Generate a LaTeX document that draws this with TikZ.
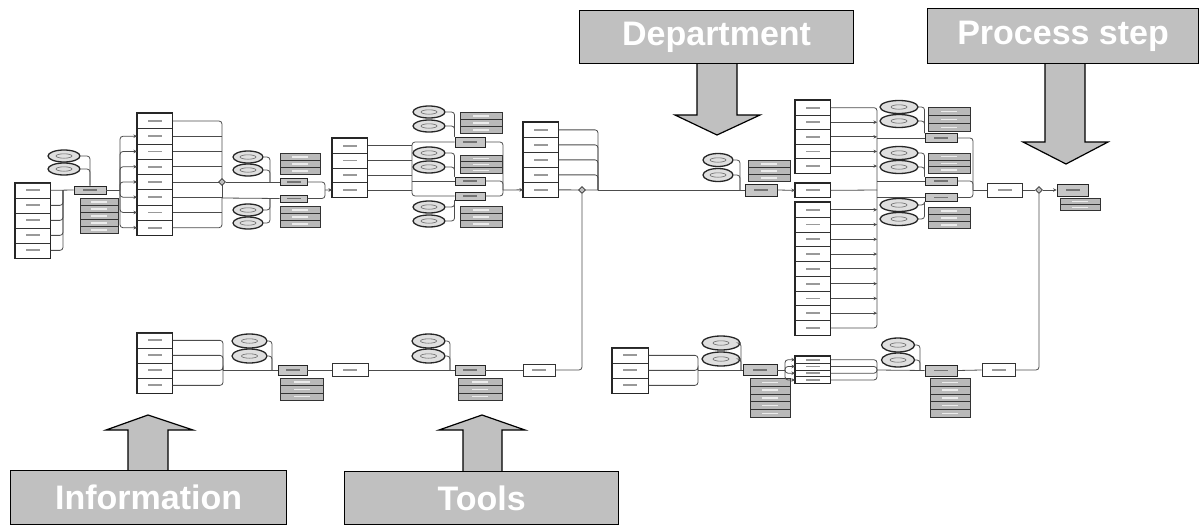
\documentclass[tikz,border=0pt]{standalone}
\usepackage{fontspec}
\setmainfont{Liberation Sans}
\usetikzlibrary{shapes.geometric,arrows.meta}
\definecolor{lblgray}{RGB}{192,192,192}
\tikzset{
 ln/.style={draw=black!70, line width=0.8pt, rounded corners=3pt},
 arr/.style={-{Stealth[length=3.5pt,width=3.5pt]}},
 cell/.style={draw=black!80, line width=0.7pt, fill=white, inner sep=0pt, rectangle,
   path picture={\fill[black!40] ([xshift=-7pt,yshift=-0.9pt]path picture bounding box.center) rectangle ([xshift=7pt,yshift=0.9pt]path picture bounding box.center);}},
 pbox/.style={draw=black!85, line width=0.9pt, fill=gray!45, inner sep=0pt, rectangle,
   path picture={\fill[black!55] ([xshift=-7pt,yshift=-0.9pt]path picture bounding box.center) rectangle ([xshift=7pt,yshift=0.9pt]path picture bounding box.center);}},
 wbox/.style={cell, line width=1pt},
 ell/.style={ellipse, draw=black!85, line width=1.3pt, fill=gray!25, inner sep=0pt,
   path picture={\draw[black!60, line width=0.6pt] (path picture bounding box.center) ellipse (8pt and 2.2pt);}},
 docrow/.style={draw=black!80, line width=0.6pt, fill=gray!55, inner sep=0pt, rectangle,
   path picture={\fill[white!85!gray] ([xshift=-8pt,yshift=-0.7pt]path picture bounding box.center) rectangle ([xshift=8pt,yshift=0.7pt]path picture bounding box.center);}},
 junc/.style={diamond, draw=black!80, fill=gray!50, inner sep=0pt, minimum size=7pt, line width=0.6pt},
 lbl/.style={draw=black, line width=1.2pt, fill=lblgray, text=white, font=\fontsize{34}{34}\selectfont\bfseries, inner sep=0pt},
 blk/.style={draw=black, line width=1.2pt, fill=lblgray, line join=miter},
}
% name, xleft, ytop, n, cell height, width
\newcommand{\mkstack}[6]{%
  \foreach \i in {1,...,#4}{%
    \node[cell, minimum width=#6pt, minimum height=#5pt, anchor=north west] (#1-\i) at (#2,{#3+(\i-1)*#5}) {};
  }
  \draw[black!85, line width=1.1pt] (#1-1.north west) rectangle (#1-#4.south east);
}
% name, xleft, ytop, n, row height, width
\newcommand{\mkdocs}[6]{%
  \foreach \i in {1,...,#4}{%
    \node[docrow, minimum width=#6pt, minimum height=#5pt, anchor=north west] (#1-\i) at (#2,{#3+(\i-1)*#5}) {};
  }
}
% name, cx, cy, w, h
\newcommand{\mkell}[5]{\node[ell, minimum width=#4pt, minimum height=#5pt] (#1) at (#2,#3) {};}

\begin{document}
\begin{tikzpicture}[x=1pt,y=-1pt]
\useasboundingbox (0,0) rectangle (1200,525);

%% ---------------- labels and block arrows
\draw[blk] (697,62) -- (697,115) -- (675,115) -- (717,135) -- (760,115) -- (737,115) -- (737,62);
\draw[blk] (1045,62) -- (1045,142) -- (1023,142) -- (1066,164) -- (1108,142) -- (1085,142) -- (1085,62);
\draw[blk] (128,471) -- (128,430) -- (106,430) -- (148,415) -- (193,430) -- (168,430) -- (168,471);
\draw[blk] (463,472) -- (463,430) -- (439,430) -- (482,415) -- (525,430) -- (502,430) -- (502,472);
\node[lbl, minimum width=274pt, minimum height=53pt, anchor=north west] (dept) at (579,10) {Department};
\node[lbl, minimum width=271pt, minimum height=55pt, anchor=north west] (pstep) at (927,8) {Process step};
\node[lbl, minimum width=276pt, minimum height=54pt, anchor=north west] (info) at (10,470) {Information};
\node[lbl, minimum width=274pt, minimum height=53pt, anchor=north west] (tools) at (344,471) {Tools};

%% ---------------- group A
\mkstack{sa}{15}{182.5}{5}{15}{35}
\mkell{ea1}{64}{156}{32}{12}
\mkell{ea2}{64}{169}{32}{12}
\node[pbox, minimum width=32pt, minimum height=8pt] (pa) at (90,190) {};
\mkdocs{da}{80}{198}{5}{7}{38}
\coordinate (ka) at (63,190);
\draw[ln] (sa-1.east) -- (pa.west);
\foreach \i in {2,...,5} \draw[ln] (sa-\i.east) -| (ka);
\draw[ln] (ea1.east) -| (pa.north);
\draw[ln] (ea2.east) -| (pa.north);

%% ---------------- group B
\mkstack{sb}{137}{113}{8}{15.25}{35}
\coordinate (kb) at (120,190);
\draw[ln] (pa.east) -- (kb);
\foreach \i in {2,...,8} \draw[ln,arr] (kb) |- (sb-\i.west);
\coordinate (jb) at (222,182);
\coordinate (jb2) at (222,198);
\draw[ln] (sb-1.east) -| (jb);
\draw[ln] (sb-8.east) -| (jb2);
\foreach \i in {2,...,7} \draw[ln] (sb-\i.east) -- (sb-\i.east -| jb);
\draw[ln] (jb) -- (jb2);
\node[junc] (jbd) at (jb) {};
\node[pbox, minimum width=27pt, minimum height=7pt] (pb1) at (293.5,182) {};
\node[pbox, minimum width=27pt, minimum height=7pt] (pb2) at (293.5,198.5) {};
\draw[ln] (jbd) -- (pb1.west);
\draw[ln] (jb2) -- (pb2.west);
\mkell{eb1}{248}{157}{30}{12}
\mkell{eb2}{248}{170}{30}{12}
\mkell{eb3}{248}{210}{30}{12}
\mkell{eb4}{248}{223}{30}{12}
\coordinate (kb1) at (270,182);
\coordinate (kb2) at (270,198.5);
\draw[ln] (eb1.east) -| (kb1);
\draw[ln] (eb2.east) -| (kb1);
\draw[ln] (eb3.east) -| (kb2);
\draw[ln] (eb4.east) -| (kb2);
\mkdocs{db1}{280}{153}{3}{7}{40}
\mkdocs{db2}{280}{206}{3}{7}{40}
\coordinate (mb) at (325,190);
\draw[ln] (pb1.east) -| (mb);
\draw[ln] (pb2.east) -| (mb);

%% ---------------- group C
\mkstack{sc}{332}{138}{4}{14.75}{35}
\draw[ln,arr] (mb) -- (sc-4.west);
\coordinate (kc1) at (412,142);
\coordinate (kc2) at (412,181);
\coordinate (kc3) at (412,196);
\node[pbox, minimum width=30pt, minimum height=10pt] (pc1) at (470,142) {};
\node[pbox, minimum width=30pt, minimum height=8pt] (pc2) at (470,181) {};
\node[pbox, minimum width=30pt, minimum height=8pt] (pc3) at (470,196) {};
\foreach \i in {1,...,4} \draw[ln] (sc-\i.east) -- (sc-\i.east -| kc1);
\draw[ln] (pc1.west) -| (kc3) -- (pc3.west);
\draw[ln] (kc2) -- (pc2.west);
\mkell{ec1}{429}{112}{32}{12}
\mkell{ec2}{429}{126}{32}{12}
\mkell{ec3}{429}{153}{32}{12}
\mkell{ec4}{429}{167}{32}{12}
\mkell{ec5}{429}{207}{32}{12}
\mkell{ec6}{429}{221}{32}{12}
\draw[ln] (ec1.east) -| (pc1.north west);
\draw[ln] (ec2.east) -| (pc1.north west);
\draw[ln] (ec3.east) -| (pc2.north west);
\draw[ln] (ec4.east) -| (pc2.north west);
\draw[ln] (ec5.east) -| (pc3.south west);
\draw[ln] (ec6.east) -| (pc3.south west);
\mkdocs{dc1}{460}{112}{3}{7}{42}
\mkdocs{dc2}{460}{155}{3}{6}{42}
\mkdocs{dc3}{460}{206}{3}{7}{42}
\coordinate (mc) at (503,190);
\draw[ln] (pc1.east) -| (mc);
\draw[ln] (pc3.east) -| (mc);
\draw[ln] (pc2.east) -| (mc);

%% ---------------- group D
\mkstack{sd}{523}{122}{5}{15}{35}
\draw[ln,arr] (mc) -- (sd-5.west);
\coordinate (md) at (598,190);
\foreach \i in {1,...,4} \draw[ln] (sd-\i.east) -| (md);
\draw[ln] (sd-5.east) -- (md);
\node[junc] (jd) at (582,190) {};

%% ---------------- group E (department)
\mkell{ee1}{718}{160}{30}{13}
\mkell{ee2}{718}{175}{30}{13}
\node[pbox, minimum width=32pt, minimum height=12pt] (pe) at (761,190) {};
\mkdocs{de}{748}{160}{3}{7}{42}
\coordinate (ke) at (740,190);
\draw[ln] (md) -- (pe.west);
\draw[ln] (ee1.east) -| (ke);
\draw[ln] (ee2.east) -| (ke);

%% ---------------- group F
\mkstack{sf}{795}{100}{5}{14.6}{35}
\mkstack{sg}{795}{183}{1}{14}{35}
\mkstack{sh}{795}{202}{9}{14.78}{35}
\draw[ln,arr] (pe.east) -- (sg-1.west);
\coordinate (mg) at (877,190);
\draw[ln] (sf-1.east) -| (mg);
\draw[ln] (sh-9.east) -| (mg);
\foreach \i in {2,...,5} \draw[ln,arr] (sf-\i.east) -- (sf-\i.east -| mg);
\draw[ln] (sg-1.east) -- (mg);
\foreach \i in {1,...,8} \draw[ln,arr] (sh-\i.east) -- (sh-\i.east -| mg);
\node[pbox, minimum width=32pt, minimum height=9pt] (pf1) at (941,138) {};
\node[pbox, minimum width=32pt, minimum height=8pt] (pf2) at (941,181) {};
\node[pbox, minimum width=32pt, minimum height=8pt] (pf3) at (941,197.5) {};
\draw[ln] (pf1.west -| mg) -- (pf1.west);
\draw[ln] (pf2.west -| mg) -- (pf2.west);
\draw[ln] (pf3.west -| mg) -- (pf3.west);
\mkell{ef1}{899}{107}{38}{13}
\mkell{ef2}{899}{121}{38}{13}
\mkell{ef3}{899}{153}{38}{13}
\mkell{ef4}{899}{167}{38}{13}
\mkell{ef5}{899}{205}{38}{13}
\mkell{ef6}{899}{219}{38}{13}
\draw[ln] (ef1.east) -| (pf1.north west);
\draw[ln] (ef2.east) -| (pf1.north west);
\draw[ln] (ef3.east) -| (pf2.north west);
\draw[ln] (ef4.east) -| (pf2.north west);
\draw[ln] (ef5.east) -| (pf3.south west);
\draw[ln] (ef6.east) -| (pf3.south west);
\mkdocs{df1}{928}{107}{3}{8}{42}
\mkdocs{df2}{928}{153}{3}{6.7}{42}
\mkdocs{df3}{928}{207}{3}{7}{42}
\coordinate (mf) at (973,190);
\draw[ln] (pf1.east) -| (mf);
\draw[ln] (pf2.east) -| (mf);
\draw[ln] (pf3.east) -| (mf);
\node[wbox, minimum width=35pt, minimum height=14pt] (bf) at (1004.5,190) {};
\draw[ln] (mf) -- (bf.west);
\node[junc] (jf) at (1039,190) {};
\draw[ln] (bf.east) -- (jf);
\node[pbox, minimum width=31pt, minimum height=12pt] (pg) at (1072.5,190) {};
\draw[ln,arr] (jf) -- (pg.west);
\mkdocs{dg}{1060}{198}{2}{6}{40}

%% ---------------- bottom row, left
\mkstack{si}{137}{332.5}{4}{15}{35}
\coordinate (ki) at (223,370);
\foreach \i in {1,...,4} \draw[ln] (si-\i.east) -| (ki);
\mkell{ei1}{249.5}{341}{35}{14}
\mkell{ei2}{249.5}{356}{35}{14}
\coordinate (ki2) at (272,370);
\node[pbox, minimum width=29pt, minimum height=10pt] (pi) at (292.5,370) {};
\draw[ln] (ki) -- (pi.west);
\draw[ln] (ei1.east) -| (ki2);
\draw[ln] (ei2.east) -| (ki2);
\mkdocs{di}{280}{378}{3}{7.3}{43}
\node[wbox, minimum width=36pt, minimum height=13pt] (bi) at (350,370) {};
\draw[ln] (pi.east) -- (bi.west);
\mkell{ej1}{428.5}{341}{33}{14}
\mkell{ej2}{428.5}{356}{33}{14}
\coordinate (kj) at (450,370);
\node[pbox, minimum width=30pt, minimum height=10pt] (pj) at (470,370) {};
\draw[ln] (bi.east) -- (pj.west);
\draw[ln] (ej1.east) -| (kj);
\draw[ln] (ej2.east) -| (kj);
\mkdocs{dj}{458}{378}{3}{7.3}{44}
\node[wbox, minimum width=32pt, minimum height=12pt] (bj) at (539,370) {};
\draw[ln] (pj.east) -- (bj.west);
\draw[ln] (bj.east) -| (jd);

%% ---------------- bottom row, right
\mkstack{sk}{612}{347.5}{3}{15}{36}
\coordinate (kk) at (698,370);
\foreach \i in {1,...,3} \draw[ln] (sk-\i.east) -| (kk);
\mkell{ek1}{721}{343}{38}{14}
\mkell{ek2}{721}{359}{38}{14}
\coordinate (kk2) at (741,370);
\node[pbox, minimum width=34pt, minimum height=11pt] (pk) at (760,370) {};
\draw[ln] (kk) -- (pk.west);
\draw[ln] (ek1.east) -| (kk2);
\draw[ln] (ek2.east) -| (kk2);
\mkdocs{dk}{750}{378}{5}{7.8}{40}
\mkstack{sl}{795}{356}{4}{6.75}{35}
\coordinate (kl0) at (785,370);
\draw[ln] (pk.east) -- (kl0);
\foreach \i in {1,...,4} \draw[ln,arr] (kl0) |- (sl-\i.west);
\coordinate (kl) at (877,370);
\foreach \i in {1,...,4} \draw[ln] (sl-\i.east) -| (kl);
\mkell{el1}{898}{345}{33}{14}
\mkell{el2}{898}{360}{33}{14}
\coordinate (kl2) at (920,370);
\node[pbox, minimum width=32pt, minimum height=11pt] (pl) at (941,370.5) {};
\draw[ln] (kl) -- (pl.west);
\draw[ln] (el1.east) -| (kl2);
\draw[ln] (el2.east) -| (kl2);
\mkdocs{dl}{930}{378}{5}{7.8}{40}
\node[wbox, minimum width=33pt, minimum height=13pt] (bl) at (998.5,370) {};
\draw[ln] (pl.east) -- (bl.west);
\draw[ln] (bl.east) -| (jf);
\end{tikzpicture}
\end{document}
